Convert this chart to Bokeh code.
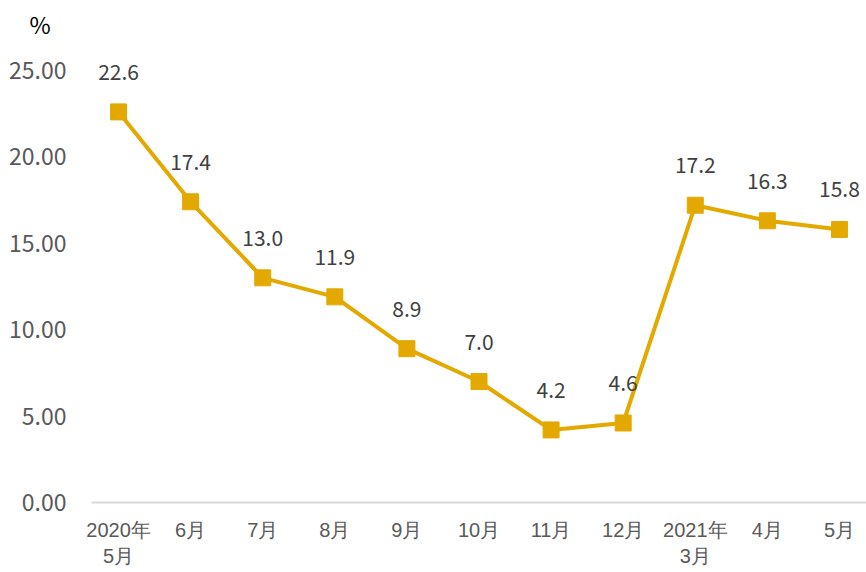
from bokeh.plotting import figure
from bokeh.models import ColumnDataSource, FactorRange, Range1d, FixedTicker, LabelSet, NumeralTickFormatter
from bokeh.core.properties import value
from bokeh.embed import file_html
from bokeh.resources import INLINE

categories = ["2020年\n5月", "6月", "7月", "8月", "9月", "10月", "11月", "12月", "2021年\n3月", "4月", "5月"]
values = [22.6, 17.4, 13.0, 11.9, 8.9, 7.0, 4.2, 4.6, 17.2, 16.3, 15.8]
labels = ["22.6", "17.4", "13.0", "11.9", "8.9", "7.0", "4.2", "4.6", "17.2", "16.3", "15.8"]
y_ticks = [0, 5, 10, 15, 20, 25]

FONT = "Noto Sans CJK SC"
XFONT = "Liberation Sans"
GOLD = "#E3A900"

src = ColumnDataSource(dict(x=categories, y=values, t=labels))

p = figure(width=866, height=572,
           x_range=FactorRange(factors=categories, range_padding=-0.125, range_padding_units="absolute"),
           y_range=Range1d(0, 26.5), output_backend="svg", toolbar_location=None,
           min_border_left=91, min_border_right=0, min_border_top=44, min_border_bottom=70)
p.outline_line_color = None
p.xgrid.grid_line_color = None
p.ygrid.grid_line_color = None

p.title.text = "%"
p.title.align = "left"
p.title.offset = -62
p.title.standoff = 7
p.title.text_font = FONT
p.title.text_font_size = "23px"
p.title.text_font_style = "normal"
p.title.text_color = "#000000"

p.line("x", "y", source=src, line_color=GOLD, line_width=4)
p.scatter("x", "y", source=src, marker="square", size=16, fill_color=GOLD, line_color=GOLD)

lbl = LabelSet(x="x", y="y", text="t", source=src, y_offset=40, text_align="center",
               text_baseline="middle", text_font=value(FONT), text_font_size="21px",
               text_color="#404040")
p.add_layout(lbl)

p.yaxis.ticker = FixedTicker(ticks=y_ticks)
p.yaxis.formatter = NumeralTickFormatter(format="0.00")
p.yaxis.axis_line_color = None
p.yaxis.major_tick_line_color = None
p.yaxis.minor_tick_line_color = None
p.yaxis.major_label_text_font = FONT
p.yaxis.major_label_text_font_size = "23px"
p.yaxis.major_label_text_color = "#595959"
p.yaxis.major_label_standoff = 19

p.xaxis.axis_line_color = "#D9D9D9"
p.xaxis.axis_line_width = 2
p.xaxis.major_tick_line_color = None
p.xaxis.minor_tick_line_color = None
p.xaxis.major_label_text_font = XFONT
p.xaxis.major_label_text_font_size = "20px"
p.xaxis.major_label_text_color = "#595959"
p.xaxis.major_label_standoff = 10

open("out.html", "w").write(file_html(p, INLINE))
